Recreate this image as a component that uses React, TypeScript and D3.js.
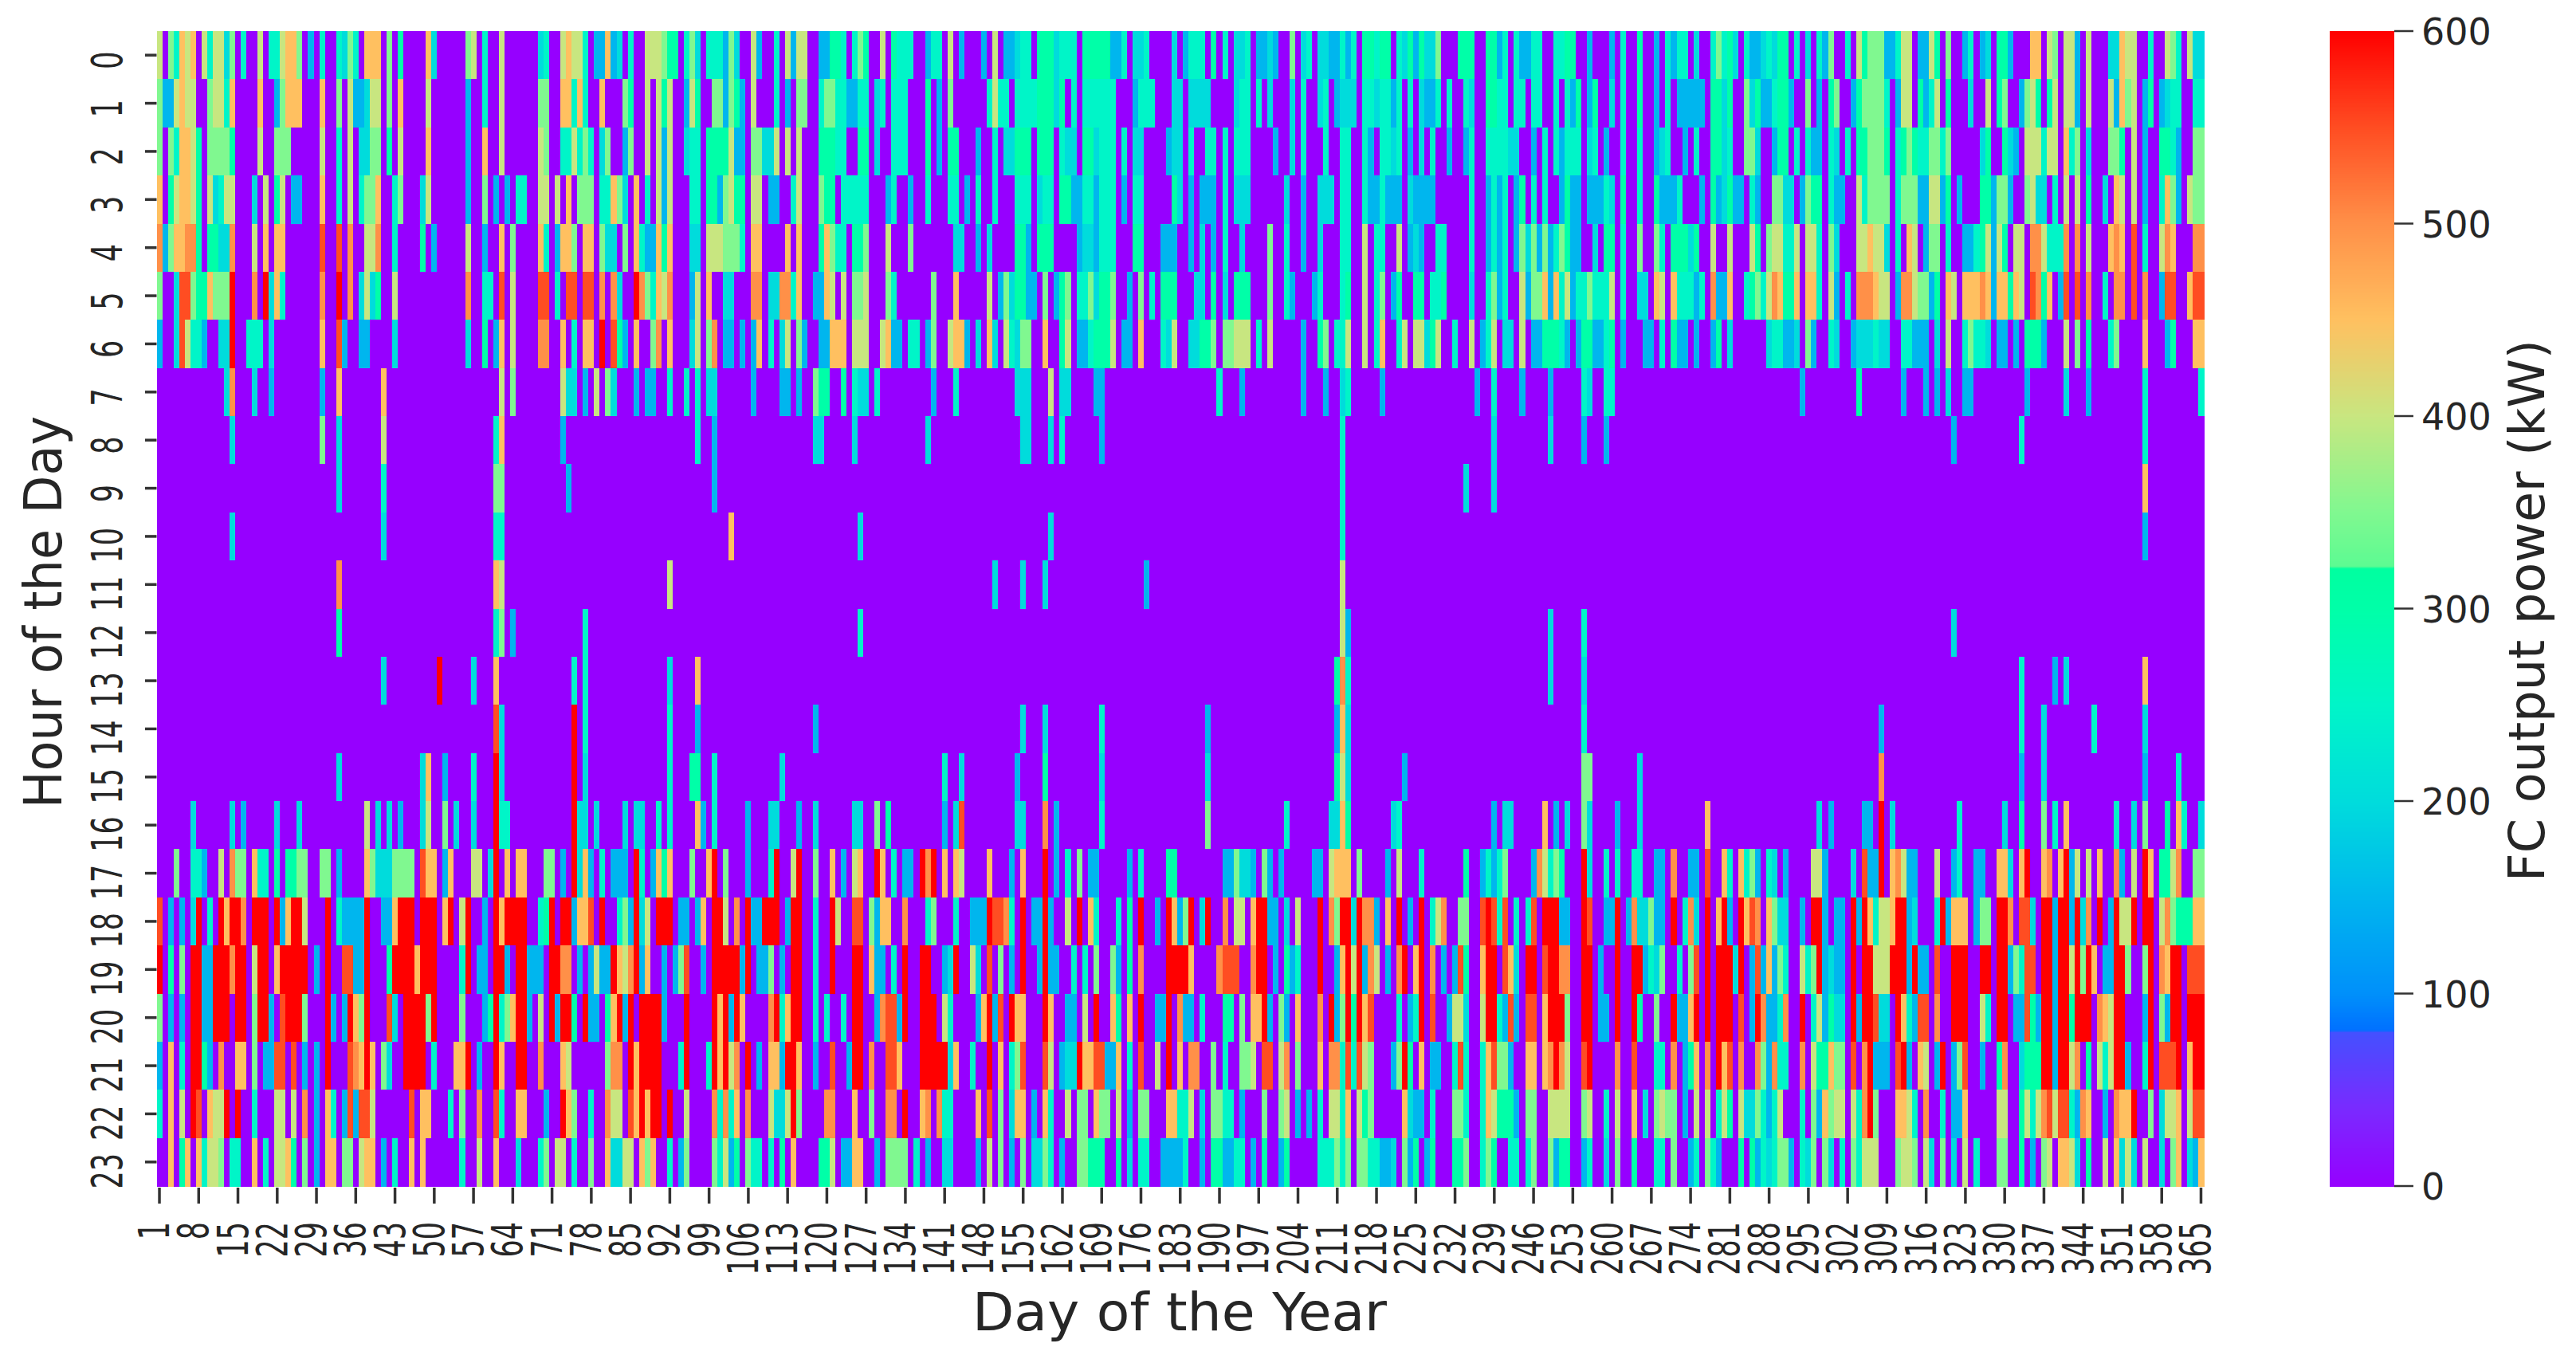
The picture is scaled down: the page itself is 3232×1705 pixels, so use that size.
import React from "react";
import * as d3 from "d3";

// Sparse readings per hour: "<day>[-<day>]<level>", every other day is 0.
const levels: Record<string, number> = { b: 150, c: 200, t: 250, g: 300, l: 350, y: 400, o: 450, r: 500, e: 550, R: 600 };

const hour00 = "1y 3l 4t 5o 6y 7o 9y 10t 11-12y 13c 14l 16t 19y 21-22t 23y 24-25o 26l 28b 30t 33t 34c 35l 36t 38-40o 42l 44g 49o 50c 56l 57y 59t 62y 69c 70t 73y 74o 75-76y 77t 79-80b 81o 82b 83c 85t 88-90y 91l 92-93g 95t 96l 97c 99-101t 102b 103l 104c 107y 108b 111t 113y 114b 115-116y 119-120b 121-122g 123t 125t 126l 127g 130y 132g 133-135t 138b 139-140t 142y 144b 148b 150y 152-153b 154c 155-156t 158-160g 161c 162-164t 166-170g 171-172b 173t 175-176c 177t 182c 184b 185-187t 189g 191t 193-194c 195t 197-198b 199c 200b 203l 205c 206t 208-209c 210-211b 212t 213b 214t 216-217g 218t 219-220g 222t 223c 224g 225b 226g 227-228c 229l 233-235g 238-239g 240b 241t 243t 244-245b 246-247t 250-251t 252-253g 256b 260b 262t 265g 268b 270t 271b 272-273t 275c 278t 279l 280t 281g 282c 284t 285b 286b 287c 288t 289c 290-291g 293t 295c 297t 298b 299l 302t 304y 305g 306-308l 309-310b 311t 312-313y 315-316b 317y 318g 320l 323b 324t 326b 327c 329-330g 331b 335-336o 338y 339l 341-342y 343b 345y 349-350c 351o 352-353y 356t 359y 360l 361t 363y 364-365c";
const hour01 = "1l 2-3b 4y 5o 6-7y 10l 11-12y 13t 14o 19o 22b 23l 24-26o 30o 33l 35y 36-37b 38c 39-40y 42l 44o 49y 56b 59t 62y 69-70l 73-74o 75t 76o 77t 80o 84l 85g 88y 90y 91g 92y 95b 96y 97g 100-101l 102b 103l 104g 105b 107y 111t 113b 115-116l 119t 120-121l 122-123t 124-125b 126-127t 129c 130t 132-134t 138g 140b 142l 149t 150y 151-152t 154-157t 158-160g 161c 162g 164t 166-171t 175b 176-177t 178t 182-183c 185-188c 193c 194-195t 197t 199c 203c 205t 208c 209t 211b 212c 213-214c 216-217t 218c 219-220t 221b 222t 224t 226c 227-228b 229t 231t 234t 235c 238-239g 240-241t 243-244t 246-247t 250t 252t 253b 254g 256b 257g 260c 262t 265g 268b 270t 272-276b 278-279g 280c 281g 284l 285c 286g 287-288b 289t 290-291g 292b 295l 297b 299g 300l 303b 304g 305l 306-308l 309t 311b 312-313y 315g 316b 317t 318y 320g 324c 327y 329g 330l 333b 334l 335y 336g 338g 339y 341-342y 343b 345y 349y 350b 351o 352l 353y 355b 356g 358b 359c 360-361t 364-365t";
const hour02 = "1l 3l 4t 5-6o 7y 8g 10l 11-13l 14g 19y 22-24l 30y 33t 35y 37-38c 39-40l 42g 44y 49o 56b 59o 62y 69y 70l 73-74t 75y 76t 77l 78t 80c 81l 84b 85l 88y 90y 91b 92y 95c 96-97t 99-102g 103y 104-105b 107-108l 109-110c 111y 113y 115y 119-120g 121g 122-123t 126-127g 129c 132-134t 138g 140b 142-143g 147b 150t 152-153c 154-156g 158-160g 162t 163-164c 166-167g 168c 169-171t 173t 175-176c 181b 182-183c 185t 188-189t 191t 193-195t 200b 203c 205t 209t 212-213t 216t 217b 219-220t 221c 222t 224b 226c 228t 231b 234b 235t 238-241t 242-243c 246b 248t 250t 251b 252-254t 256c 257t 259b 262t 265t 268b 269c 270t 273b 275t 278-279g 280c 281t 284-285l 286c 289b 290-291g 293t 295t 296-297b 299t 300c 302t 304-305g 306-308l 309g 311t 312g 313l 314g 315-316t 317-318l 319t 320l 326c 327g 330g 331c 332b 334y 335-336y 337t 338y 339y 341o 342t 343l 345c 349-350l 351g 353y 355b 358-359g 360t 361b 364-365l";
const hour03 = "1o 3g 4y 5-6o 7y 8g 10y 11c 12t 13-14y 18c 20y 22g 23y 25-26b 30o 33t 35y 37t 38-39l 40o 43t 44l 48c 49y 56b 59l 61b 63b 65-66t 69-70y 72y 74o 76-78l 80-81t 82o 83l 84c 86o 88t 90y 91b 92y 96-97t 99-100g 101b 102l 103y 104-105g 107-108y 110-111b 114t 115y 119l 120-121g 123-127t 131b 132t 135b 138t 142-143t 145b 147t 150t 154-156t 158c 159-160t 162-163g 164-165b 166-167t 168b 169-171t 173b 175-176t 182g 183c 185b 187-189b 191t 193-195c 202c 205b 208-210c 212-213t 216t 217-218b 219t 220-222b 224c 225-228b 235t 238b 239t 240b 241t 243b 244g 246t 248t 251b 252g 253-254b 256-258b 259t 260c 262g 265t 268g 269-271b 272t 276b 278g 279b 280c 281g 282-283b 285t 286b 289-290l 291-292c 294b 295l 296-297g 299t 300-301b 304y 305t 306-308l 309l 311t 312-314l 315-316b 317-318y 319b 320g 322b 326-327g 328b 329-330l 331b 334l 335y 336-337c 339t 341y 343y 345g 348c 350o 351y 353y 355b 358t 359o 360l 361b 363y 364-365l";
const hour04 = "1r 2b 3l 4o 5o 6-7r 8g 10-11g 12-13c 14r 18y 20o 22-23o 30e 33e 35r 38-39y 40r 43t 48g 50b 56y 59b 62o 64l 69o 70t 72b 73-74o 75l 77-78o 80l 81-82c 84l 86o 87t 88-89b 90o 91g 92o 96-97c 99-101y 102-104l 105t 107-108o 113o 115o 119g 120o 121l 122-123t 125-126g 127l 131y 135l 143-144c 147b 149c 154-155g 156b 158-160g 165b 166-167c 168b 169-171t 175-176g 180-182b 185b 187c 189b 191t 194c 199l 202t 205b 208c 212-213t 216y 218-219t 222y 224b 225c 226b 229-230t 235t 238b 239t 240b 241t 243b 244l 245c 246l 247b 248l 249b 250t 251l 252g 253-254b 257c 259-260g 262t 265l 268l 269t 271-273g 274c 275g 278y 281y 285y 286g 288l 289-290y 291-292t 293y 295-296y 297t 299l 300c 304-305y 306o 307-308y 309c 311t 313o 314y 316b 317-318l 320t 323-324b 325t 326g 327y 328b 329y 330g 332-333y 335-336r 337y 338-340t 341r 343r 345y 349o 350r 351o 353e 355t 358y 359r 360o 364-365r";
const hour05 = "1l 4c 5-6e 7l 8-9g 10o 11-13l 14R 18r 20R 21c 22o 23t 30r 33R 35r 37c 38y 39c 40g 43y 56r 59-60t 62e 64y 69-70e 72t 74-75e 77-78e 80r 82r 83c 86R 87r 88l 89t 90o 91y 92r 96b 97y 99o 102-103c 107-108r 110-111c 112-113r 114t 115o 118-119b 120o 121y 123y 125-126l 127y 131l 132t 139l 143o 149y 151b 152l 153c 154-155g 156-157b 159l 161b 162g 163l 165-166t 167l 168c 169-170g 171l 174b 176l 178t 180-182g 186-187c 189g 191c 193-195g 199l 202t 203b 207b 208t 212t 213g 216y 218t 219l 221b 222g 225-226g 228-229t 230g 235c 238t 239l 240b 241t 244y 245b 246-247l 248o 249b 250o 251t 252y 253b 254-255t 256l 257t 258-259t 260y 262t 265-266c 268o 269y 271o 272-274t 275b 276t 278r 279-280b 281o 284t 285g 286l 287t 288y 289r 290o 291-292g 293o 295-296o 297t 299y 300b 302t 304-306r 307o 308-309y 311b 312-313r 314y 315-316l 317b 318g 320o 321y 323-325o 326r 327o 328b 329o 330o 331g 332o 333y 335e 336r 337g 338o 340b 341e 343e 345r 348t 350-351r 353e 355r 358b 359-360e 363o 364-365e";
const hour06 = "1b 4c 5e 6y 7-8t 9b 12-13c 14R 17-19t 21c 30o 33e 34b 37-38b 43c 56c 59g 61b 62o 64y 69-70r 73o 75t 77-78o 80R 82e 83g 84b 86o 89l 90r 92o 96c 97y 99l 100r 102-103b 105b 107b 108o 110t 112c 113y 115l 116b 119-120b 121-123o 125-126y 127y 130y 131o 132-133b 135-136t 138b 139l 142y 143-144o 145b 147c 149o 150c 152y 153t 154c 155-156l 159o 162g 163y 165-166b 167t 168-170g 171y 173-174b 176o 180t 181c 182y 185-186c 187-188g 189l 191-192l 193-195y 197t 199y 205b 208g 209l 211-212t 213y 216y 218t 219o 222t 223y 225-226y 227c 228g 229y 232t 235y 237b 238t 239y 241-242c 244y 246-247b 248-250g 251t 252b 254b 255-256g 257-258b 259t 260g 262b 266-267b 269t 271g 272-273b 275b 278b 279g 281c 288c 289-290t 291-292b 293c 295l 296b 299t 300c 303b 304-306c 307t 308-309c 312-313t 314b 315-316b 318c 320y 323t 324l 325-326t 327c 329-330b 332b 334-336g 337b 341y 343l 345g 349t 350l 355o 359b 360g 364-365o";
const hour07 = "13c 14r 18c 21b 30b 33o 41o 62y 64l 73y 74-75c 77b 79y 81l 82c 86b 88-89b 92t 95t 97t 99-100c 107b 112-113b 115b 118l 119-120g 123g 125t 126-127c 129t 139b 143t 154-156c 160y 162-163c 168-169b 190t 194b 205b 209b 212c 213t 219b 236b 239t 244b 249b 255t 256c 259-260t 294b 304g 312b 316b 318b 320c 323-324b 334b 341c 345b 355t 365t";
const hour08 = "14c 30l 33c 41y 61t 62o 73b 97t 100b 118-119c 125c 138c 155-156c 160c 162t 169b 212t 239c 249c 255b 259b 321b 333t 355t";
const hour09 = "33c 41t 61-62l 74b 100b 212t 234c 239c 355o";
const hour10 = "14c 41c 61-62t 103o 126c 160c 212t 355b";
const hour11 = "33r 61o 62y 92y 150c 155c 159c 177b 212y";
const hour12 = "33g 61t 62l 64b 77t 126t 212y 213b 249c 255t 321c";
const hour13 = "41c 51R 57c 61o 75t 77t 92c 97o 211g 212r 213t 249c 255c 333t 339b 341c 355o";
const hour14 = "61e 62c 75R 77t 92t 97b 118b 155c 159c 169t 188b 211b 212o 213c 255t 308b 333t 337c 346t 355c";
const hour15 = "33c 48c 49o 52b 57t 61R 62c 75R 77c 92t 96-97g 100t 112c 141t 144c 154b 159g 169c 188c 211g 212y 213c 223b 255-256l 265c 308r 333b 337c 355b 361t";
const hour16 = "7c 14c 16b 22c 26c 38y 40c 42c 44b 48c 49y 52l 54c 57c 61R 62-63t 75R 76-77c 79c 84c 86-87c 90t 92t 97o 98b 100t 106b 110-111c 115b 118c 125-126c 129l 131g 141b 143c 144e 154-155c 159r 161b 169t 188l 202t 210-211c 212o 213g 221c 222t 239b 241-242c 248o 250b 252c 255l 256c 261b 265c 277o 297c 299b 305-306b 308R 310c 322t 330c 333g 337l 339t 341o 350t 353c 355l 359g 361o 362t 365c";
const hour17 = "4l 7-8t 9b 12y 14r 15-16l 18o 19-20t 22g 24-25g 26-27l 30-31l 33b 38o 39l 40-41c 42c 43-46l 48e 49-50o 52b 53o 57-58y 60c 61R 63o 65-66o 70-71l 73b 75R 76c 77o 78b 80t 82-84b 86R 87t 89b 90o 91g 92o 96l 99o 100R 102l 106b 110t 111R 114y 115R 118l 121o 123b 125y 126o 129R 130o 132t 134-135b 137R 138r 139R 141o 143o 144y 149o 153b 155o 159R 161b 163t 165l 167-168b 174b 176t 181-182g 191-192b 193l 194-195c 196b 198l 199b 201b 207-208b 210y 211-212o 213o 215l 220b 222y 226t 234g 237b 238t 239b 240t 241l 246b 247r 248y 249t 250l 251g 255R 256c 259t 261t 264-265t 268-269b 271r 274-275b 277e 280o 281t 283o 284t 285l 286b 288t 289c 291b 296-297y 298b 303c 305e 306-307b 308R 310o 311r 312y 313-314b 318y 321b 322t 325-326b 329-330o 331c 333o 334R 337o 338r 340o 341R 342b 343y 345y 347o 350r 351b 353y 355R 356o 358-359g 360y 361r 364-365l";
const hour18 = "1e 3b 5b 7c 8R 10t 12R 13o 14-15R 16r 18-20R 22R 23b 24o 25-26R 27y 31R 33t 34-37b 38R 41-42b 43o 44-46R 48-50R 52o 53R 55y 56R 59b 61R 62o 63-66R 69t 70g 71R 73-74R 75b 76-77o 78e 80R 83t 84l 85b 86R 87c 88y 90-92R 94-95b 97b 98o 100-101R 102y 104r 106R 107-108b 109-111R 113b 114-115R 118t 121R 122y 125-126e 128l 129b 130o 131o 134r 138t 139l 143t 146-148b 149R 150-151e 152r 153t 155R 157-158b 159R 160b 163y 165R 167o 168t 172t 174g 176R 179b 181R 182o 183b 184l 185R 187c 188R 191r 193-194y 196o 197-198R 199b 200b 202c 204y 208R 210r 211l 212-213R 214c 215R 216r 217r 218b 220o 222R 224b 226R 228t 229y 230r 233l 234l 237e 238R 239e 240t 241e 243t 245t 246e 248-250R 251-252b 255R 256e 259-260b 261R 263b 264r 265-266c 267l 268-269b 271R 273t 274r 275c 277R 279o 280R 281b 283R 284o 285e 286r 288o 289l 290-291c 294b 296-297R 298b 300-301b 303R 304b 305R 306o 307t 308-309y 310o 311-312R 313b 314c 318t 319R 320b 321-323o 325b 326-327l 329-330R 331r 333-334e 335c 337-338R 339b 340-341R 342b 343R 344c 345r 347R 349b 350R 351-352y 353R 355-356R 358y 359r 360l 361-363g 364-365o";
const hour19 = "1R 3g 5l 7-8R 9-10b 11-13R 14r 15-16R 18y 19-20R 22o 23-27R 29b 31R 34-35e 36-37b 38R 42g 43-46R 47o 48-50R 55t 56R 58-59b 61-62R 63b 65-66R 67-69b 71-72R 73-74r 76b 78b 79y 80-81b 82R 83o 84y 85r 86R 87b 88o 91b 93b 94l 95e 98b 100-104R 105b 106R 108-109b 110l 112b 114-115R 118t 121R 125-126R 128o 129-130b 132t 134R 137-138R 141b 142c 143R 146y 147c 149e 151l 153b 155R 158b 159R 160-161b 164t 166t 168l 171l 172b 174g 176r 181-184R 185o 190r 191-192e 193e 196r 197-198R 200b 202g 203b 204t 208R 211b 212o 213R 214y 215R 216b 217r 218y 220b 222r 223R 225o 226R 228r 230b 232b 233e 234g 237o 238-239R 241e 242o 243c 245-246R 248e 249-250R 251-252r 255-256R 258b 261R 264-265R 266b 267t 268c 269l 272t 274l 275e 277R 279-281R 282c 283R 285b 286e 287b 288o 289b 290l 291t 294y 295t 296l 297R 298b 299c 300-301b 303R 305-306R 307y 308-309y 310-312R 313b 314R 315-316b 318e 321-323R 326-327R 329-330R 331b 332l 333t 334-335e 337-338R 339b 340-341R 342y 343R 344l 345R 346o 348-349b 350-351R 352l 355l 356R 358r 359o 360-361R 363e 364-365e";
const hour20 = "1l 3b 5b 7-8R 9-10b 11-13R 15-16R 18l 19-20R 21b 23e 24-26R 27l 31R 32b 34b 35R 36o 37l 38R 42e 43c 45-48R 49l 50R 55l 59b 60g 61R 62t 63l 64o 65-66R 67b 69y 71R 72b 73-74R 75g 77R 78-79b 81g 82o 83R 84b 85R 87-90R 91b 95R 100R 101o 102R 103b 104R 105o 110r 111R 112t 113o 114-115R 118t 120t 123t 125-126R 129b 130r 131-132e 133b 134R 137-139R 141y 142t 147b 148o 149R 150b 151e 153R 154-155o 159R 160o 163-164b 166y 168R 171o 172g 174o 176R 179-180b 181R 183r 184-185b 187t 191-192g 194l 196-197o 198R 199b 201l 202b 204o 208r 210R 211b 212l 213R 214g 215R 216o 217e 222t 224b 225t 226R 228e 231b 232-233y 234c 237y 238-239R 240t 241b 242e 243b 245-246e 248o 249-251R 252l 255-256R 258-259b 261R 264R 265g 268l 271R 272-273b 274o 275R 277R 279-281R 283e 285b 286R 287r 288-289b 290t 291r 294R 296t 297y 298b 299g 300-301c 303R 304b 305-306R 307e 308-309c 311R 312o 313t 314b 315-316e 318r 321-323R 326y 327t 329-330R 332-333b 334e 335g 336b 337-338R 339b 340-341R 342g 343-345R 347r 348o 349y 350-351R 355b 356R 358l 359b 360-361R 363R 364-365R";
const hour21 = "1b 3o 5t 7-8R 9g 10b 12r 15-16o 18l 20-21b 22-23e 25e 27b 29b 31R 35e 36r 37o 38R 39o 41l 42c 45-48R 50t 54-55o 56R 58b 61R 62o 65-66R 69r 73o 74y 81l 82-83r 85R 86o 87-90R 94t 95R 99t 100R 101o 102R 103y 104r 106R 108b 110-111o 112b 113-114R 115o 118b 121e 124b 125-126R 128r 131e 132e 133o 137-141R 142c 143o 146t 149R 151o 153t 154l 155e 159e 160y 162b 163-164c 165R 166-167o 168-169e 170-171b 172o 174t 176e 179y 181R 183o 185-186r 189l 191t 194-195l 196y 198e 199e 201y 202r 204l 208o 210-211r 212t 213e 214t 215e 216y 217l 221b 222l 223R 224g 226o 228-229b 232t 233e 234t 237t 238o 239e 240-241l 242b 245-246o 248o 249r 250R 251r 252y 255e 256R 261r 264e 268-269t 271r 273b 274g 275o 277r 279R 280o 281e 283r 286r 287l 288b 289r 290-291t 294r 296y 297-298g 299o 300-301l 303e 305r 306R 307-309b 311e 312R 313b 315o 316y 318b 319R 321b 322l 323e 326b 329g 330r 333c 334-336g 337-338R 339b 340-341R 342y 343r 345g 347y 348t 349y 350-351R 352b 355t 356R 358-360e 361R 363o 364-365R";
const hour22 = "1t 3o 5y 7R 8e 10o 11-12y 13R 15R 18t 22-23y 25y 27r 29b 31o 32t 34b 35e 36b 37e 38e 39y 46e 48-49o 53t 55l 58r 61e 62t 65-66o 70b 73R 74o 75l 78t 81r 82-83y 85e 86o 87R 88o 89-90R 92R 95y 100r 101t 102r 103t 104o 106r 110y 111-112c 113y 114R 115l 120-121r 125o 128l 131-132r 134R 137o 138r 140r 141-142t 147o 149e 151l 153c 154-155o 157b 159o 160t 163y 165-166l 168o 169-170l 172y 174b 176-177l 181-182o 183-184t 185y 187c 189-190l 191-192t 194b 198l 201l 202y 204b 206b 208t 210-211y 212t 213o 215y 216g 217l 223o 224c 225-226b 228t 232-233l 234t 237t 238o 239y 240-242g 243b 245-246l 249y 250-252y 255l 256y 259t 261y 264o 266c 268l 269y 270-271l 273b 275y 277y 279t 280y 281g 283y 284-285c 286l 287t 288b 289t 290y 294t 296l 297b 298o 299l 300-301y 303y 304t 305r 306R 307l 311-312o 313y 314t 316r 319t 321-322b 323o 329-330y 333g 334y 335t 336y 337r 338e 339y 340-341e 342t 343b 344r 345o 348b 350r 351-352o 353R 356l 358c 359-360y 361o 363y 364-365e";
const hour23 = "3o 5g 6o 8o 9t 10-11y 12l 14-15t 18o 20t 22-23y 24o 25g 27l 29b 31-32o 34-35l 37y 38-39o 41b 43t 46o 48o 55t 58y 61o 65c 69t 70l 72-73y 75t 78l 81o 82-83c 84-85y 87o 88l 89o 92t 94b 95l 100l 101t 102y 103b 104g 106l 107-108t 110t 112g 114o 119-120g 121y 123-124b 125-126o 129b 131-134l 136t 138b 141-142c 147b 149y 151l 153b 155l 157-158c 159l 160t 162b 165-166l 167-169g 172g 174c 176-177t 180-183b 184t 187b 189-190g 191-192b 193-194t 196b 198g 201b 202g 208-210t 211l 212t 213l 215-216l 217-218t 219-220b 221c 223l 224b 225g 227b 228g 232-233g 234l 237t 238l 239g 242-243t 245t 246l 249l 250b 251-252g 255b 256t 259c 261l 264g 268-269t 271l 274b 275t 277l 278t 279b 283g 285g 286b 287t 288c 289t 290-291l 292b 294t 295c 296l 298l 299c 301t 303l 304t 305-307y 311l 312-313y 314l 316y 317c 319l 321c 323y 325t 329-330l 333g 335b 337l 338y 340-341o 342y 343c 345g 348y 350o 351c 352y 353c 355y 358c 360l 361o 363c 364b 365o";

const hourRows = [hour00, hour01, hour02, hour03, hour04, hour05, hour06, hour07, hour08, hour09, hour10, hour11, hour12, hour13, hour14, hour15, hour16, hour17, hour18, hour19, hour20, hour21, hour22, hour23];

const days = d3.range(1, 366);
const hours = d3.range(0, 24);
const dayTicks = days.filter((d) => (d - 1) % 7 === 0);
const barTicks = [0, 100, 200, 300, 400, 500, 600];

const stopValues = [0, 40, 80, 81, 100, 150, 200, 250, 300, 321, 322, 350, 400, 450, 500, 550, 600];
const stopColors = ["#9600ff", "#7a2aff", "#4450ff", "#0070ff", "#0090fa", "#00b6ee", "#00dcdc", "#00f5c8", "#00ffa8", "#00ffa0", "#5cfb92", "#80f890", "#c8e680", "#ffc060", "#ff9048", "#ff4d22", "#ff0000"];

function expand(row: string): number[] {
  const out = days.map(() => 0);
  for (const m of row.matchAll(/(\d+)(?:-(\d+))?([a-zA-Z])/g)) {
    const a = +m[1];
    const b = m[2] ? +m[2] : a;
    for (let d = a; d <= b; d++) out[d - 1] = levels[m[3]];
  }
  return out;
}

const matrix = hourRows.map(expand);

const W = 3232, H = 1705;
const ink = "#262626";
const font = "'DejaVu Sans', sans-serif";

export default function App() {
  const x = d3.scaleBand<number>().domain(days).range([196.5, 2765]);
  const y = d3.scaleBand<number>().domain(hours).range([39, 1488]);
  const color = d3.scaleLinear<string>().domain(stopValues).range(stopColors).clamp(true);
  const bar = d3.scaleLinear().domain([0, 600]).range([1488, 39]);
  const barCells = d3.range(0, 600);

  return (
    <svg width={W} height={H} viewBox={`0 0 ${W} ${H}`} style={{ position: "absolute", left: 0, top: 0, background: "#fff" }} fontFamily={font}>
      <g shapeRendering="crispEdges">
        {matrix.map((row, h) =>
          row.map((v, i) => (
            <rect key={`${h}-${i}`} x={x(days[i])} y={y(h)} width={x.bandwidth() + 0.6} height={y.bandwidth() + 0.6} fill={color(v)} />
          ))
        )}
      </g>

      {hours.map((h) => {
        const cy = y(h)! + y.bandwidth() / 2;
        const shift = h < 10 ? 6.5 : 11.4;
        return (
          <g key={h} fill={ink}>
            <line x1={182} x2={196.5} y1={cy} y2={cy} stroke="#333" strokeWidth={3.5} />
            <text transform={`translate(153,${cy + shift}) scale(1.5,1) rotate(-90)`} fontSize={35} textAnchor="middle">{h}</text>
          </g>
        );
      })}

      {dayTicks.map((d) => {
        const cx = x(d)! + x.bandwidth() / 2;
        return (
          <g key={d} fill={ink}>
            <line x1={cx} x2={cx} y1={1490} y2={1510} stroke="#333" strokeWidth={3.5} />
            <text transform={`translate(${cx + 12},1533) scale(1.5,1) rotate(-90)`} fontSize={35} textAnchor="end">{d}</text>
          </g>
        );
      })}

      <text transform="translate(77,768) scale(1.05,1) rotate(-90)" fontSize={62} textAnchor="middle" fill={ink}>Hour of the Day</text>
      <text transform="translate(1480,1669) scale(1,0.96)" fontSize={68} textAnchor="middle" fill={ink}>Day of the Year</text>

      <g shapeRendering="crispEdges">
        {barCells.map((v) => (
          <rect key={v} x={2923} width={81} y={bar(v + 1)} height={bar(v) - bar(v + 1) + 0.6} fill={color(v + 0.5)} />
        ))}
      </g>
      {barTicks.map((t) => (
        <g key={t} fill={ink}>
          <line x1={3004} x2={3028} y1={bar(t)} y2={bar(t)} stroke="#333" strokeWidth={2.5} />
          <text x={3038} y={bar(t) + 17} fontSize={46}>{t}</text>
        </g>
      ))}
      <text transform="translate(3192,766) rotate(-90)" fontSize={62} textAnchor="middle" fill={ink}>FC output power (kW)</text>
    </svg>
  );
}
